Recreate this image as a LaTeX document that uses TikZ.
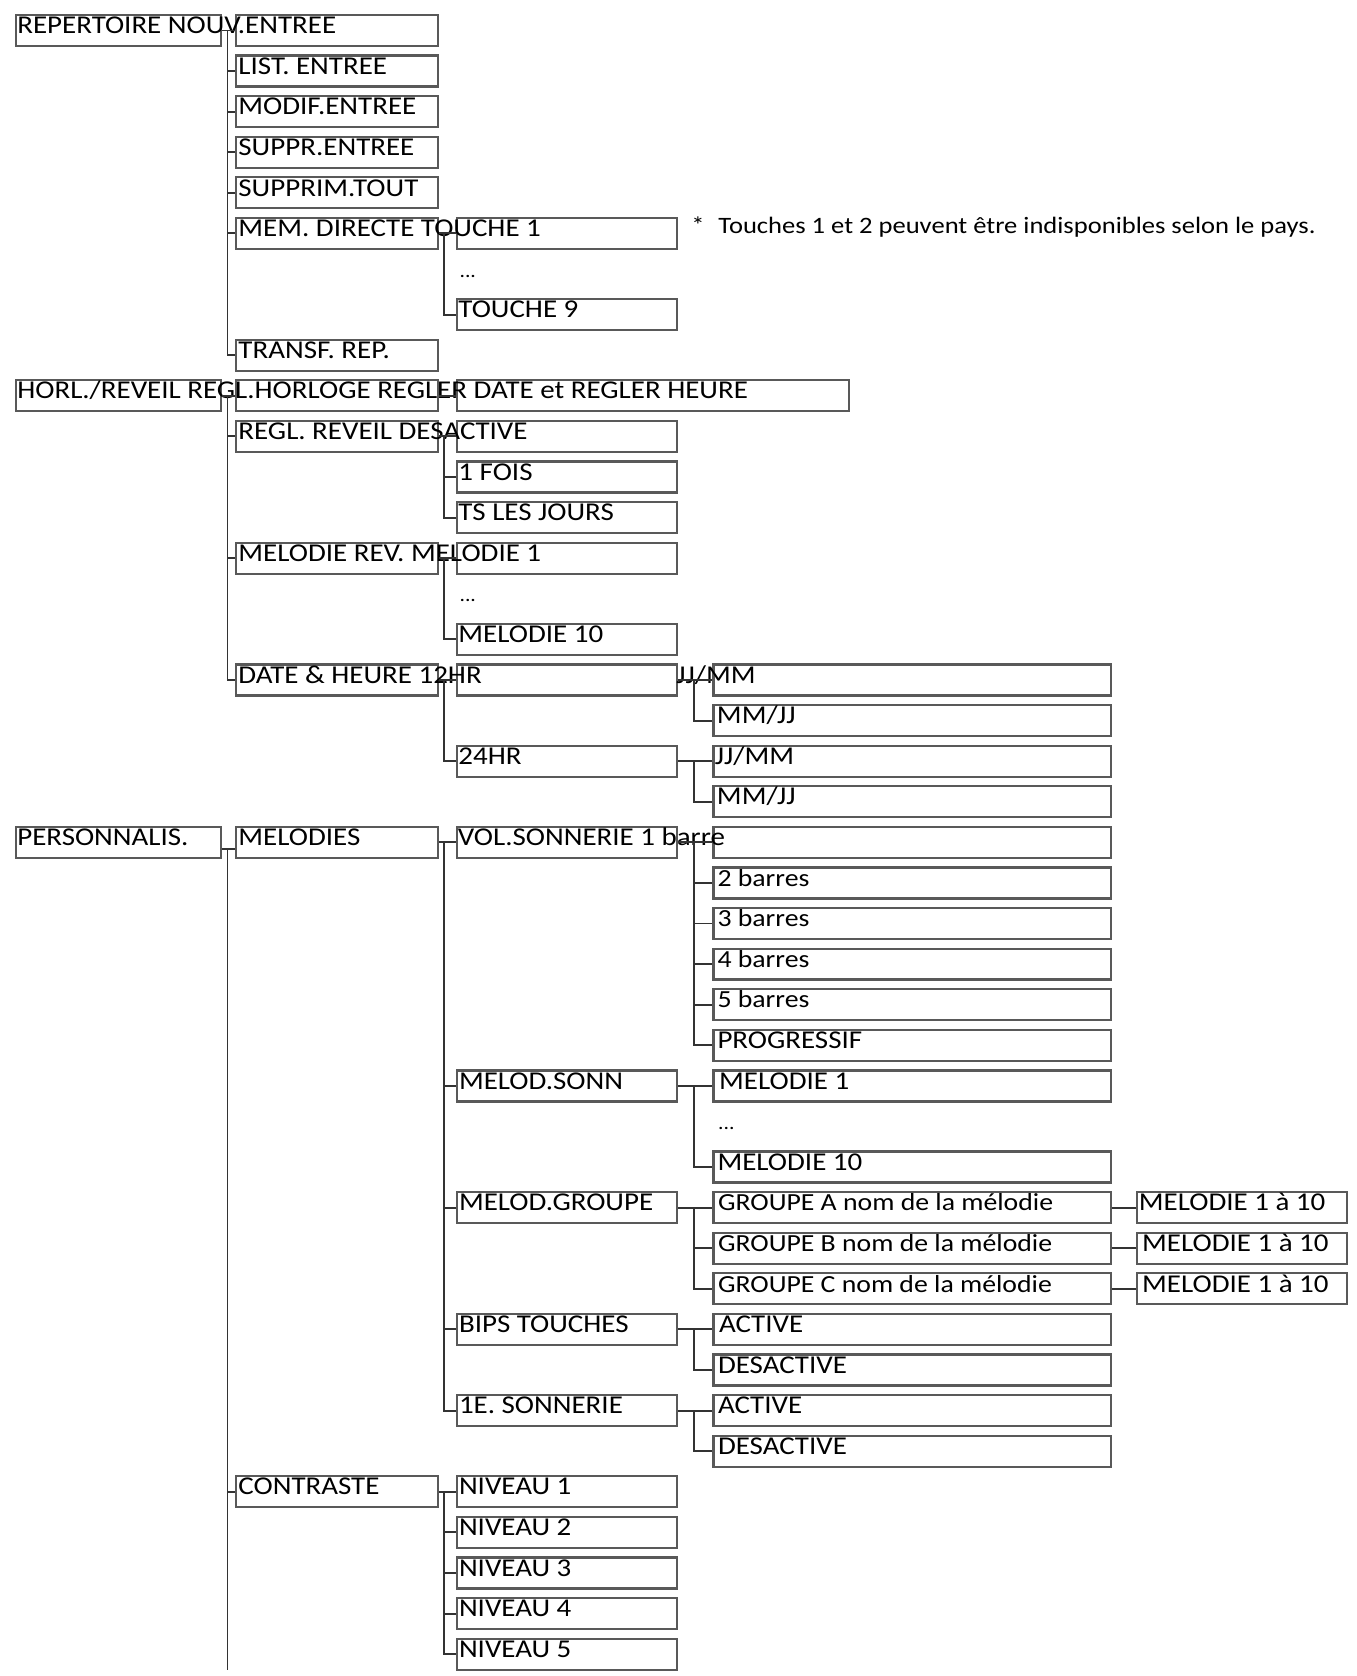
\documentclass[tikz,border=0pt]{standalone}
\usepackage{fontspec}
\setmainfont[FakeStretch=1.13]{Carlito}
\usetikzlibrary{calc}
\tikzset{
  bx/.style={draw=black!65, line width=2.1pt, minimum height=29pt, inner sep=0pt, anchor=north west},
  bA/.style={bx, minimum width=192pt},
  bB/.style={bx, minimum width=189pt},
  bC/.style={bx, minimum width=206pt},
  bCw/.style={bx, minimum width=367pt},
  bD/.style={bx, minimum width=372pt},
  bE/.style={bx, minimum width=197pt},
  txt/.style={anchor=base west, inner sep=0pt, text=black, font=\fontsize{24}{28}\selectfont},
  txtl/.style={txt, font=\fontsize{23}{28}\selectfont},
  dots/.style={anchor=base west, inner sep=0pt, text=black, font=\fontsize{18}{22}\selectfont},
  conn/.style={draw=black!80, line width=1.8pt}
}
\begin{document}
\begin{tikzpicture}[x=1pt,y=-1pt]
\useasboundingbox (0,0) rectangle (1270,1569);
\coordinate (tA) at (213,0);
\coordinate (tB) at (416,0);
\coordinate (tC) at (650,0);
\coordinate (endA) at (213,1563);

% ---------- REPERTOIRE ----------
\node[bA] (a0) at (14,13) {};
\node[bB] (b0) at (220,13) {};
\node[bB] (b1) at (220,51) {};
\node[bB] (b2) at (220,89) {};
\node[bB] (b3) at (220,127) {};
\node[bB] (b4) at (220,165) {};
\node[bB] (b5) at (220,203) {};
\node[bC] (c5) at (427,203) {};
\node[bC] (c7) at (427,279) {};
\node[bB] (b8) at (220,317) {};

\node[txt] (ta0) at ([shift={(2,18.5)}]a0.north west) {REPERTOIRE NOUV.ENTREE};
\node[txt] (tb1) at ([shift={(3,18.5)}]b1.north west) {LIST. ENTREE};
\node[txt] (tb2) at ([shift={(3,18.5)}]b2.north west) {MODIF.ENTREE};
\node[txt] (tb3) at ([shift={(3,18.5)}]b3.north west) {SUPPR.ENTREE};
\node[txt] (tb4) at ([shift={(3,18.5)}]b4.north west) {SUPPRIM.TOUT};
\node[txt] (tb5) at ([shift={(3,18.5)}]b5.north west) {MEM. DIRECTE TOUCHE 1};
\node[dots] (d6) at ([shift={(3,56.5)}]c5.north west) {...};
\node[txt] (tc7) at ([shift={(2,18.5)}]c7.north west) {TOUCHE 9};
\node[txt] (tb8) at ([shift={(3,18.5)}]b8.north west) {TRANSF. REP.};
\node[txt, font=\fontsize{22}{26}\selectfont] (note) at (647,219) {*\hspace{13pt}Touches 1 et 2 peuvent être indisponibles selon le pays.};

\draw[conn] (a0.east) -- (b0.west);
\draw[conn] (b0.west -| tA) |- (b8.west);
\foreach \n in {b1,b2,b3,b4,b5} \draw[conn] (\n.west -| tA) -- (\n.west);
\draw[conn] (b5.east) -- (c5.west);
\draw[conn] (c5.west -| tB) |- (c7.west);

% ---------- HORL./REVEIL ----------
\node[bA] (a9) at (14,355) {};
\node[bB] (b9) at (220,355) {};
\node[bCw] (c9) at (427,355) {};
\node[bB] (b10) at (220,393) {};
\node[bC] (c10) at (427,393) {};
\node[bC] (c11) at (427,431) {};
\node[bC] (c12) at (427,469) {};
\node[bB] (b13) at (220,507) {};
\node[bC] (c13) at (427,507) {};
\node[bC] (c15) at (427,583) {};
\node[bB] (b16) at (220,621) {};
\node[bC] (c16) at (427,621) {};
\node[bD] (d16) at (667,621) {};
\node[bD] (d17) at (667,659) {};
\node[bC] (c18) at (427,697) {};
\node[bD] (d18) at (667,697) {};
\node[bD] (d19) at (667,735) {};

\node[txt] (ta9) at ([shift={(2,18.5)}]a9.north west) {HORL./REVEIL REGL.HORLOGE REGLER DATE et REGLER HEURE};
\node[txt] (tb10) at ([shift={(3,18.5)}]b10.north west) {REGL. REVEIL DESACTIVE};
\node[txt] (tc11) at ([shift={(2,18.5)}]c11.north west) {1 FOIS};
\node[txt] (tc12) at ([shift={(2,18.5)}]c12.north west) {TS LES JOURS};
\node[txt] (tb13) at ([shift={(3,18.5)}]b13.north west) {MELODIE REV. MELODIE 1};
\node[dots] (d14) at ([shift={(3,56.5)}]c13.north west) {...};
\node[txt] (tc15) at ([shift={(2,18.5)}]c15.north west) {MELODIE 10};
\node[txt] (tb16) at ([shift={(3,18.5)}]b16.north west) {DATE \& HEURE 12HR};
\node[txt] (td16) at ([shift={(-34,18.5)}]d16.north west) {JJ/MM};
\node[txt] (td17) at ([shift={(4,18.5)}]d17.north west) {MM/JJ};
\node[txt] (tc18) at ([shift={(2,18.5)}]c18.north west) {24HR};
\node[txt] (td18) at ([shift={(2,18.5)}]d18.north west) {JJ/MM};
\node[txt] (td19) at ([shift={(4,18.5)}]d19.north west) {MM/JJ};

\draw[conn] (a9.east) -- (b9.west);
\draw[conn] (b9.west -| tA) |- (b16.west);
\foreach \n in {b10,b13} \draw[conn] (\n.west -| tA) -- (\n.west);
\draw[conn] (b9.east) -- (c9.west);
\draw[conn] (b10.east) -- (c10.west);
\draw[conn] (c10.west -| tB) |- (c12.west);
\draw[conn] (c11.west -| tB) -- (c11.west);
\draw[conn] (b13.east) -- (c13.west);
\draw[conn] (c13.west -| tB) |- (c15.west);
\draw[conn] (b16.east) -- (c16.west);
\draw[conn] (c16.west -| tB) |- (c18.west);
\draw[conn] (c16.east) -- (d16.west);
\draw[conn] (d16.west -| tC) |- (d17.west);
\draw[conn] (c18.east) -- (d18.west);
\draw[conn] (d18.west -| tC) |- (d19.west);

% ---------- PERSONNALIS. ----------
\node[bA] (a20) at (14,773) {};
\node[bB] (b20) at (220,773) {};
\node[bC] (c20) at (427,773) {};
\node[bD] (d20) at (667,773) {};
\node[bD] (d21) at (667,811) {};
\node[bD] (d22) at (667,849) {};
\node[bD] (d23) at (667,887) {};
\node[bD] (d24) at (667,925) {};
\node[bD] (d25) at (667,963) {};
\node[bC] (c26) at (427,1001) {};
\node[bD] (d26) at (667,1001) {};
\node[bD] (d28) at (667,1077) {};
\node[bC] (c29) at (427,1115) {};
\node[bD] (d29) at (667,1115) {};
\node[bE] (e29) at (1063,1115) {};
\node[bD] (d30) at (667,1153) {};
\node[bE] (e30) at (1063,1153) {};
\node[bD] (d31) at (667,1191) {};
\node[bE] (e31) at (1063,1191) {};
\node[bC] (c32) at (427,1229) {};
\node[bD] (d32) at (667,1229) {};
\node[bD] (d33) at (667,1267) {};
\node[bC] (c34) at (427,1305) {};
\node[bD] (d34) at (667,1305) {};
\node[bD] (d35) at (667,1343) {};
\node[bB] (b36) at (220,1381) {};
\node[bC] (c36) at (427,1381) {};
\node[bC] (c37) at (427,1419) {};
\node[bC] (c38) at (427,1457) {};
\node[bC] (c39) at (427,1495) {};
\node[bC] (c40) at (427,1533) {};

\node[txt] (ta20) at ([shift={(2,18.5)}]a20.north west) {PERSONNALIS.};
\node[txt] (tb20) at ([shift={(3,18.5)}]b20.north west) {MELODIES};
\node[txt] (tc20) at ([shift={(1.5,18.5)}]c20.north west) {VOL.SONNERIE 1 barre};
\node[txtl] (td21) at ([shift={(4.5,18.5)}]d21.north west) {2 barres};
\node[txtl] (td22) at ([shift={(4.5,18.5)}]d22.north west) {3 barres};
\node[txtl] (td23) at ([shift={(4.5,18.5)}]d23.north west) {4 barres};
\node[txtl] (td24) at ([shift={(4.5,18.5)}]d24.north west) {5 barres};
\node[txt] (td25) at ([shift={(4.5,18.5)}]d25.north west) {PROGRESSIF};
\node[txt] (tc26) at ([shift={(2.5,18.5)}]c26.north west) {MELOD.SONN};
\node[txt] (td26) at ([shift={(6,18.5)}]d26.north west) {MELODIE 1};
\node[dots] (d27) at ([shift={(5,56.5)}]d26.north west) {...};
\node[txt] (td28) at ([shift={(4.5,18.5)}]d28.north west) {MELODIE 10};
\node[txt] (tc29) at ([shift={(2.5,18.5)}]c29.north west) {MELOD.GROUPE};
\node[txtl] (td29) at ([shift={(5,18.5)}]d29.north west) {GROUPE A nom de la mélodie};
\node[txt] (te29) at ([shift={(3,18.5)}]e29.north west) {MELODIE 1 à 10};
\node[txtl] (td30) at ([shift={(5,18.5)}]d30.north west) {GROUPE B nom de la mélodie};
\node[txt] (te30) at ([shift={(6,18.5)}]e30.north west) {MELODIE 1 à 10};
\node[txtl] (td31) at ([shift={(5,18.5)}]d31.north west) {GROUPE C nom de la mélodie};
\node[txt] (te31) at ([shift={(6,18.5)}]e31.north west) {MELODIE 1 à 10};
\node[txt] (tc32) at ([shift={(2.5,18.5)}]c32.north west) {BIPS TOUCHES};
\node[txt] (td32) at ([shift={(6,18.5)}]d32.north west) {ACTIVE};
\node[txt] (td33) at ([shift={(5,18.5)}]d33.north west) {DESACTIVE};
\node[txt] (tc34) at ([shift={(2.5,18.5)}]c34.north west) {1E. SONNERIE};
\node[txt] (td34) at ([shift={(5,18.5)}]d34.north west) {ACTIVE};
\node[txt] (td35) at ([shift={(5,18.5)}]d35.north west) {DESACTIVE};
\node[txt] (tb36) at ([shift={(3,18.5)}]b36.north west) {CONTRASTE};
\node[txt] (tc36) at ([shift={(2.5,18.5)}]c36.north west) {NIVEAU 1};
\node[txt] (tc37) at ([shift={(2.5,18.5)}]c37.north west) {NIVEAU 2};
\node[txt] (tc38) at ([shift={(2.5,18.5)}]c38.north west) {NIVEAU 3};
\node[txt] (tc39) at ([shift={(2.5,18.5)}]c39.north west) {NIVEAU 4};
\node[txt] (tc40) at ([shift={(2.5,18.5)}]c40.north west) {NIVEAU 5};

\coordinate (p20) at ([yshift=-6pt]a20.east);
\draw[conn] (p20) -- (p20 -| b20.west);
\draw[conn] (p20 -| tA) -- (endA);
\draw[conn] (b36.west -| tA) -- (b36.west);
\draw[conn] (b20.east) -- (c20.west);
\draw[conn] (c20.west -| tB) |- (c34.west);
\foreach \n in {c26,c29,c32} \draw[conn] (\n.west -| tB) -- (\n.west);
\draw[conn] (c20.east) -- (d20.west);
\draw[conn] (d20.west -| tC) |- (d25.west);
\foreach \n in {d21,d22,d23,d24} \draw[conn] (\n.west -| tC) -- (\n.west);
\draw[conn] (c26.east) -- (d26.west);
\draw[conn] (d26.west -| tC) |- (d28.west);
\draw[conn] (c29.east) -- (d29.west);
\draw[conn] (d29.west -| tC) |- (d31.west);
\draw[conn] (d30.west -| tC) -- (d30.west);
\draw[conn] (d29.east) -- (e29.west);
\draw[conn] (d30.east) -- (e30.west);
\draw[conn] (d31.east) -- (e31.west);
\draw[conn] (c32.east) -- (d32.west);
\draw[conn] (d32.west -| tC) |- (d33.west);
\draw[conn] (c34.east) -- (d34.west);
\draw[conn] (d34.west -| tC) |- (d35.west);
\draw[conn] (b36.east) -- (c36.west);
\draw[conn] (c36.west -| tB) |- (c40.west);
\foreach \n in {c37,c38,c39} \draw[conn] (\n.west -| tB) -- (\n.west);
\end{tikzpicture}
\end{document}
